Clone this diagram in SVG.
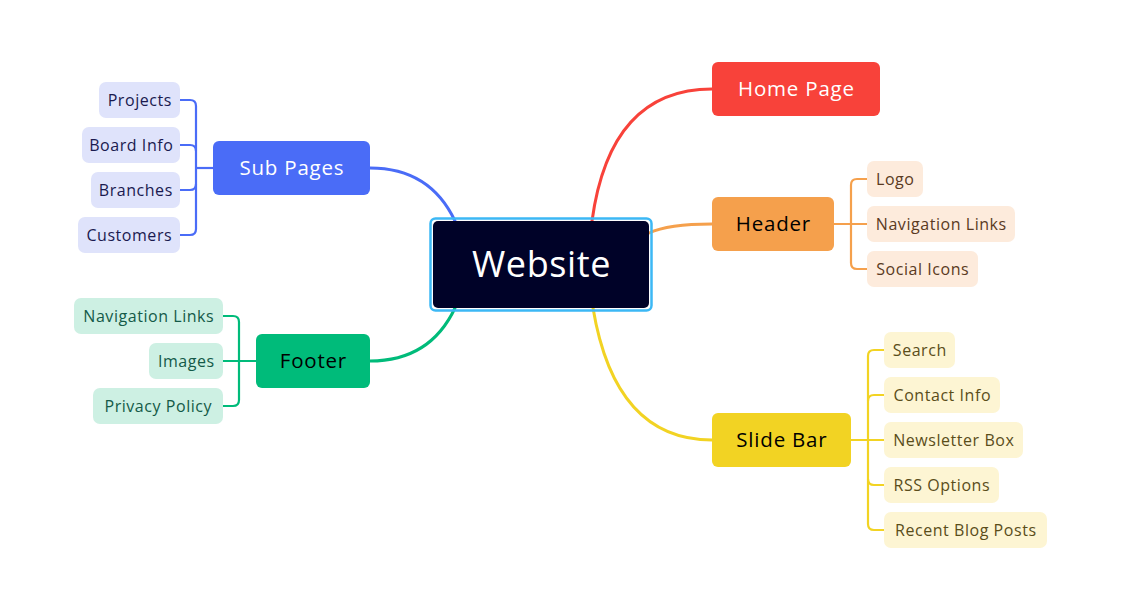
<svg xmlns="http://www.w3.org/2000/svg" width="1127" height="616" viewBox="0 0 1127 616">
  <style>
    text { font-family: "Open Sans", "Noto Sans", sans-serif; text-anchor: middle; dominant-baseline: central; }
    .main { font-size: 20.5px; font-weight: 500; letter-spacing: 0.8px; }
    .leaf { font-size: 16px; letter-spacing: 0.55px; }
    .conn { fill: none; stroke-width: 3; stroke-linecap: round; }
    .br { fill: none; stroke-width: 2.2; stroke-linejoin: round; }
  </style>
  <rect width="1127" height="616" fill="#ffffff"/>

  <g id="connectors">
    <path class="conn" stroke="#f8423a" d="M592,221 Q610,89 712,89"/>
    <path class="conn" stroke="#f5a04c" d="M649,233 Q668,224 712,224"/>
    <path class="conn" stroke="#f2d323" d="M593,308 Q615,440 712,440"/>
    <path class="conn" stroke="#4a6cf7" d="M455,221 Q430,168 370,168"/>
    <path class="conn" stroke="#00bb7a" d="M455,308 Q430,361 370,361"/>

    <!-- Sub Pages bracket -->
    <g stroke="#4a6cf7" class="br">
      <path d="M213,168 H196"/>
      <path d="M180,100 H190 Q196,100 196,106 V229 Q196,235 190,235 H180"/>
      <path d="M180,145 H190 Q196,145 196,151"/>
      <path d="M180,190 H190 Q196,190 196,184"/>
    </g>
    <!-- Footer bracket -->
    <g stroke="#00bb7a" class="br">
      <path d="M256,361 H223"/>
      <path d="M223,316 H233 Q239,316 239,322 V400 Q239,406 233,406 H223"/>
    </g>
    <!-- Header bracket -->
    <g stroke="#f5a04c" class="br">
      <path d="M834,224 H867"/>
      <path d="M867,179 H857 Q851,179 851,185 V263 Q851,269 857,269 H867"/>
    </g>
    <!-- Slide Bar bracket -->
    <g stroke="#f2d323" class="br">
      <path d="M851,440 H884"/>
      <path d="M884,350 H874 Q868,350 868,356 V524 Q868,530 874,530 H884"/>
      <path d="M884,395 H874 Q868,395 868,401"/>
      <path d="M884,485 H874 Q868,485 868,479"/>
    </g>
  </g>

  <g id="website">
    <rect x="430.5" y="218.5" width="221" height="92" rx="5" fill="none" stroke="#3cb8f5" stroke-width="2.5"/>
    <rect x="433" y="221" width="216" height="87" rx="5" fill="#000228"/>
    <text x="541.5" y="263" font-size="36" font-weight="500" letter-spacing="0.6" fill="#ffffff">Website</text>
  </g>

  <g id="home-page">
    <rect x="712" y="62" width="168" height="54" rx="6" fill="#f8423a"/>
    <text class="main" x="796.4" y="88" fill="#ffffff">Home Page</text>
  </g>

  <g id="header">
    <rect x="712" y="197" width="122" height="54" rx="6" fill="#f5a04c"/>
    <text class="main" x="773.4" y="223" fill="#000000">Header</text>
  </g>
  <g id="header-logo">
    <rect x="867" y="161" width="56" height="36" rx="7" fill="#fdebdc"/>
    <text class="leaf" x="895.3" y="178.5" fill="#5a3a22">Logo</text>
  </g>
  <g id="header-nav">
    <rect x="867" y="206" width="148" height="36" rx="7" fill="#fdebdc"/>
    <text class="leaf" x="941.3" y="223.5" fill="#5a3a22">Navigation Links</text>
  </g>
  <g id="header-social">
    <rect x="867" y="251" width="111" height="36" rx="7" fill="#fdebdc"/>
    <text class="leaf" x="922.8" y="268.5" fill="#5a3a22">Social Icons</text>
  </g>

  <g id="slide-bar">
    <rect x="712" y="413" width="139" height="54" rx="6" fill="#f2d323"/>
    <text class="main" x="781.9" y="439" fill="#000000">Slide Bar</text>
  </g>
  <g id="sb-search">
    <rect x="884" y="332" width="71" height="36" rx="7" fill="#fdf5d3"/>
    <text class="leaf" x="919.8" y="349.5" fill="#5a4d1a">Search</text>
  </g>
  <g id="sb-contact">
    <rect x="884" y="377" width="116" height="36" rx="7" fill="#fdf5d3"/>
    <text class="leaf" x="942.3" y="394.5" fill="#5a4d1a">Contact Info</text>
  </g>
  <g id="sb-newsletter">
    <rect x="884" y="422" width="139" height="36" rx="7" fill="#fdf5d3"/>
    <text class="leaf" x="953.8" y="439.5" fill="#5a4d1a">Newsletter Box</text>
  </g>
  <g id="sb-rss">
    <rect x="884" y="467" width="115" height="36" rx="7" fill="#fdf5d3"/>
    <text class="leaf" x="941.8" y="484.5" fill="#5a4d1a">RSS Options</text>
  </g>
  <g id="sb-blog">
    <rect x="884" y="512" width="163" height="36" rx="7" fill="#fdf5d3"/>
    <text class="leaf" x="965.8" y="529.5" fill="#5a4d1a">Recent Blog Posts</text>
  </g>

  <g id="sub-pages">
    <rect x="213" y="141" width="157" height="54" rx="6" fill="#4a6cf7"/>
    <text class="main" x="291.9" y="167" fill="#ffffff">Sub Pages</text>
  </g>
  <g id="sp-projects">
    <rect x="99" y="82" width="81" height="36" rx="7" fill="#dfe3fb"/>
    <text class="leaf" x="139.8" y="99.5" fill="#1a1a50">Projects</text>
  </g>
  <g id="sp-board">
    <rect x="82" y="127" width="98" height="36" rx="7" fill="#dfe3fb"/>
    <text class="leaf" x="131.3" y="144.5" fill="#1a1a50">Board Info</text>
  </g>
  <g id="sp-branches">
    <rect x="91" y="172" width="89" height="36" rx="7" fill="#dfe3fb"/>
    <text class="leaf" x="135.8" y="189.5" fill="#1a1a50">Branches</text>
  </g>
  <g id="sp-customers">
    <rect x="78" y="217" width="102" height="36" rx="7" fill="#dfe3fb"/>
    <text class="leaf" x="129.3" y="234.5" fill="#1a1a50">Customers</text>
  </g>

  <g id="footer">
    <rect x="256" y="334" width="114" height="54" rx="6" fill="#00bb7a"/>
    <text class="main" x="313.4" y="360" fill="#000000">Footer</text>
  </g>
  <g id="ft-nav">
    <rect x="74" y="298" width="149" height="36" rx="7" fill="#cdf0e3"/>
    <text class="leaf" x="148.8" y="315.5" fill="#145a48">Navigation Links</text>
  </g>
  <g id="ft-images">
    <rect x="149" y="343" width="74" height="36" rx="7" fill="#cdf0e3"/>
    <text class="leaf" x="186.3" y="360.5" fill="#145a48">Images</text>
  </g>
  <g id="ft-privacy">
    <rect x="93" y="388" width="130" height="36" rx="7" fill="#cdf0e3"/>
    <text class="leaf" x="158.3" y="405.5" fill="#145a48">Privacy Policy</text>
  </g>
</svg>
